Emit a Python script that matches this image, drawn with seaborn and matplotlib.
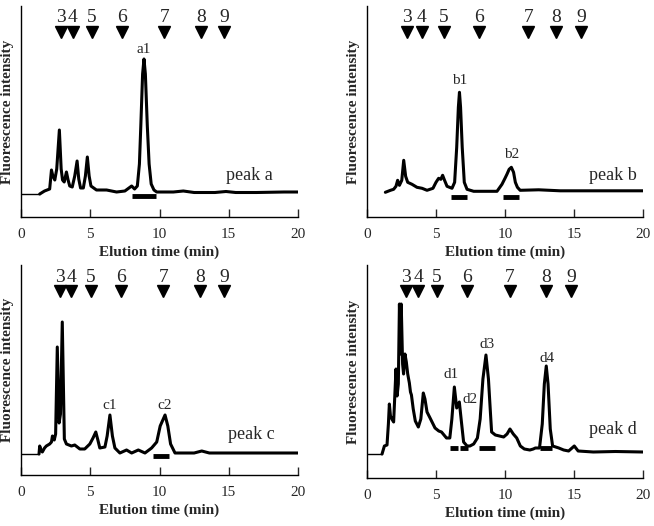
import matplotlib
matplotlib.use("Agg")
import matplotlib.pyplot as plt
import seaborn as sns

# === Chromatogram traces: elution time (min) and fluorescence (arbitrary units) ===
a_time = [1.35, 1.7, 2.07, 2.2, 2.3, 2.44, 2.58, 2.77, 2.9, 3.0, 3.12, 3.28, 3.4, 3.52,
          3.7, 3.88, 4.05, 4.17, 4.3, 4.5, 4.65, 4.79, 4.92, 5.05, 5.45, 6.18, 6.9, 7.5,
          7.99, 8.2, 8.4, 8.55, 8.65, 8.78, 8.88, 8.98, 9.12, 9.25, 9.4, 9.6, 9.8, 11.0,
          11.72, 12.5, 14.0, 14.8, 15.5, 17.0, 19.0, 20.0]
a_signal = [0, 3, 5, 24, 18, 14, 25, 64, 25, 14, 12, 22, 14, 8,
            7, 18, 33, 15, 6, 6, 18, 37, 18, 8, 4, 4, 2, 3,
            8, 5, 8, 30, 68, 120, 135, 120, 68, 30, 10, 4, 2, 2,
            3, 1.5, 1.5, 2.5, 1.5, 1.5, 2, 2]

b_time = [1.33, 1.7, 1.93, 2.1, 2.22, 2.35, 2.52, 2.66, 2.8, 2.95, 3.26, 3.62, 3.99,
          4.35, 4.78, 5.0, 5.19, 5.35, 5.48, 5.62, 5.8, 6.16, 6.35, 6.5, 6.62, 6.7, 6.78,
          6.9, 7.05, 7.25, 7.73, 9.0, 9.42, 9.78, 10.0, 10.14, 10.3, 10.46, 10.62, 10.75,
          10.9, 11.1, 12.44, 14.0, 16.0, 18.0, 20.0]
b_signal = [0, 2, 3, 6, 12, 7, 12, 32, 16, 10, 8, 5, 4,
            2, 4, 10, 14, 13, 17, 12, 6, 4, 10, 45, 85, 100, 85,
            45, 10, 3, 1, 1, 1, 8, 14, 18, 23, 25, 20, 10,
            5, 2, 2.5, 1.5, 1.5, 1.5, 1.5]

c_time = [1.3, 1.35, 1.45, 1.54, 1.7, 1.83, 2.07, 2.2, 2.27, 2.4, 2.5, 2.62, 2.75,
          2.85, 2.98, 3.13, 3.28, 3.64, 3.88, 4.25, 4.6, 4.97, 5.2, 5.4, 5.55, 5.69,
          6.06, 6.22, 6.42, 6.6, 6.78, 7.14, 7.62, 7.99, 8.47, 8.95, 9.43, 9.8, 10.05,
          10.4, 10.6, 10.8, 11.12, 12.5, 13.05, 13.6, 15.0, 17.0, 20.0]
c_signal = [0, 8, 4, 2, 6, 8, 10, 12, 18, 14, 20, 107, 31,
            40, 132, 15, 10, 8, 9, 5, 5, 10, 16, 22, 14, 6,
            7, 18, 39, 18, 6, 1, 4, 1, 4, 1, 6, 12, 28,
            39, 28, 10, 1, 1, 3, 1, 1, 1, 1]

d_time = [1.09, 1.26, 1.45, 1.55, 1.62, 1.7, 1.8, 1.93, 2.02, 2.1, 2.18, 2.27, 2.35,
          2.42, 2.48, 2.58, 2.65, 2.75, 2.85, 2.95, 3.07, 3.15, 3.22, 3.35, 3.5, 3.72,
          3.9, 4.08, 4.2, 4.35, 4.57, 4.93, 5.2, 5.4, 5.76, 6.0, 6.15, 6.33, 6.5, 6.69,
          6.82, 7.0, 7.25, 7.46, 7.73, 8.0, 8.2, 8.4, 8.62, 8.8, 8.95, 9.03, 9.3, 9.6,
          9.9, 10.15, 10.36, 10.6, 10.85, 11.11, 11.4, 11.8, 12.05, 12.2, 12.5, 12.7,
          12.85, 12.99, 13.12, 13.28, 13.45, 13.9, 14.25, 14.61, 15.02, 15.3, 16.4,
          18.0, 20.0]
d_signal = [0, 8, 9, 30, 50, 38, 35, 32, 60, 85, 58, 70, 150,
            100, 150, 90, 80, 100, 92, 80, 71, 62, 59, 45, 33, 27,
            35, 61, 55, 42, 36, 26, 23, 22, 16, 16, 35, 67, 46, 52,
            35, 12, 8, 8, 10, 16, 35, 75, 99, 75, 40, 22, 19, 18,
            17, 20, 25, 20, 16, 8, 5, 4, 5, 6, 6, 30,
            70, 88, 70, 25, 8, 6, 4, 3, 8, 3, 2,
            2.5, 2]

# === Marker ladder (glucose units) ===
ladder_names = ["3", "4", "5", "6", "7", "8", "9"]
a_ladder = [2.87, 3.72, 5.11, 7.29, 10.35, 12.98, 14.67]
b_ladder = [2.87, 3.96, 5.56, 8.12, 11.69, 13.67, 15.51]
c_ladder = [2.80, 3.64, 5.04, 7.19, 10.28, 12.96, 14.64]
d_ladder = [2.85, 3.70, 5.07, 7.25, 10.34, 12.97, 14.78]

# === Collected peaks and fractions ===
a_peaks = ["a1"]
a_peak_times = [8.88]
a_frac_start = [8.03]
a_frac_end = [9.72]

b_peaks = ["b1", "b2"]
b_peak_times = [6.70, 10.46]
b_frac_start = [6.09, 9.83]
b_frac_end = [7.25, 10.99]

c_peaks = ["c1", "c2"]
c_peak_times = [6.42, 10.40]
c_frac_start = [9.50]
c_frac_end = [10.69]

d_peaks = ["d1", "d2", "d3", "d4"]
d_peak_times = [6.33, 6.69, 8.62, 12.99]
d_frac_start = [6.00, 6.76, 8.14, 12.51]
d_frac_end = [6.60, 7.29, 9.25, 13.43]

# === Style ===
sns.set_style("ticks")
plt.rcParams["font.family"] = ["Liberation Serif", "DejaVu Serif"]


def draw_panel(ax, time, signal, ladder, peaks, peak_times, frac_start, frac_end,
               tag, ylim, bar_level, tag_xy, lead_in=True, label_shift=None):
    sns.lineplot(x=time, y=signal, ax=ax, color="black", lw=2.2, sort=False)
    if lead_in:
        ax.plot([0, time[0]], [signal[0], signal[0]], color="black", lw=1)
    ax.hlines([bar_level] * len(frac_start), frac_start, frac_end, color="black", lw=3.5)

    # ladder triangles + numbers
    top = ylim[1]
    ax.plot(ladder, [top - 26] * len(ladder), linestyle="none", marker="v",
            color="black", markersize=8, clip_on=False)
    for name, t in zip(ladder_names, ladder):
        ax.text(t, top - 12, name, ha="center", va="center", fontsize=14)

    # peak labels just above each apex
    label_shift = label_shift or {}
    for name, t in zip(peaks, peak_times):
        apex = max(s for tt, s in zip(time, signal) if abs(tt - t) < 0.15)
        dx, dy = label_shift.get(name, (0, 3))
        ax.text(t + dx, apex + dy, name, ha="center", va="bottom", fontsize=11)

    ax.text(tag_xy[0], tag_xy[1], tag, ha="center", va="center", fontsize=13)

    ax.set_xlim(0, 20)
    ax.set_ylim(*ylim)
    ax.set_xticks([0, 5, 10, 15, 20])
    ax.set_yticks([])
    ax.tick_params(axis="x", direction="in", length=6, width=1, pad=8, labelsize=11)
    ax.set_xlabel("Elution time (min)", fontweight="bold", fontsize=11, labelpad=3)
    ax.set_ylabel("Fluorescence intensity", fontweight="bold", fontsize=11, labelpad=5)
    sns.despine(ax=ax)
    for side in ["left", "bottom"]:
        ax.spines[side].set_linewidth(1)
        ax.spines[side].set_color("black")


fig = plt.figure(figsize=(6.54, 5.26), dpi=100)
W, H = 654, 526


def px_axes(left, right, top, bottom):
    return fig.add_axes([left / W, 1 - bottom / H, (right - left) / W, (bottom - top) / H])


ax_a = px_axes(21, 298, 6, 217)
ax_b = px_axes(367, 643, 6, 217)
ax_c = px_axes(21, 298, 265, 475)
ax_d = px_axes(367, 643, 265, 478)

draw_panel(ax_a, a_time, a_signal, a_ladder, a_peaks, a_peak_times, a_frac_start, a_frac_end,
           "peak a", (-23, 188), -2, (16.5, 19))
draw_panel(ax_b, b_time, b_signal, b_ladder, b_peaks, b_peak_times, b_frac_start, b_frac_end,
           "peak b", (-24.7, 186.3), -4.5, (17.8, 16.6), lead_in=False,
           label_shift={"b1": (0, 5), "b2": (0, 6)})
draw_panel(ax_c, c_time, c_signal, c_ladder, c_peaks, c_peak_times, c_frac_start, c_frac_end,
           "peak c", (-21, 189), -1.5, (16.6, 19.3))
draw_panel(ax_d, d_time, d_signal, d_ladder, d_peaks, d_peak_times, d_frac_start, d_frac_end,
           "peak d", (-24, 189), 6, (17.8, 25),
           label_shift={"d1": (-0.25, 6), "d2": (0.75, -4), "d3": (0.1, 4), "d4": (0.05, 1)})

plt.savefig("out.png", dpi=100)
